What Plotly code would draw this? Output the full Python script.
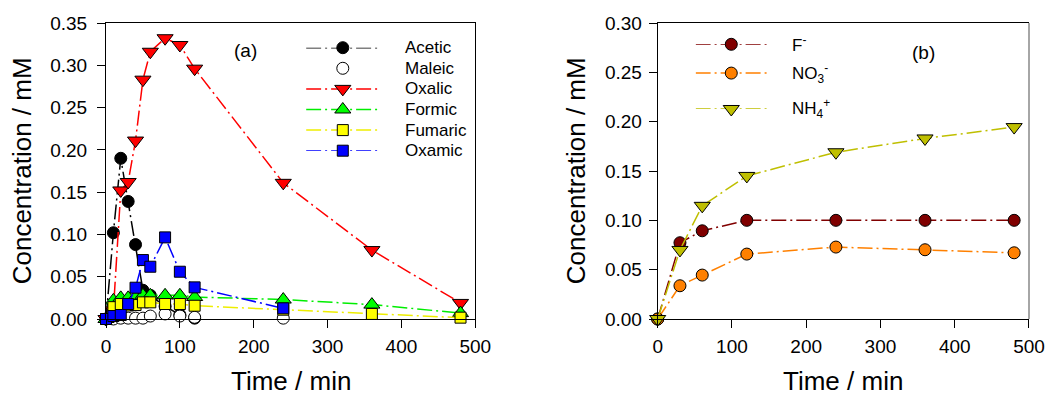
import plotly.graph_objects as go

# ---------------- data: panel (a) ----------------
time_a = [0, 10, 20, 30, 40, 50, 60, 80, 100, 120, 240, 360, 480]
acetic = [0, 0.102, 0.190, 0.139, 0.088, 0.034, 0.028, 0.015, 0.005, 0.001, None, None, None]
maleic = [None, 0.0, 0.001, 0.001, 0.001, 0.001, 0.0035, 0.006, 0.0035, 0.002, 0.001, None, None]
oxalic = [0, 0.010, 0.152, 0.162, 0.211, 0.283, 0.316, 0.332, 0.324, 0.296, 0.161, 0.0815, 0.019]
formic = [0, 0.022, 0.025, 0.025, 0.026, 0.028, 0.028, 0.028, 0.028, 0.026, 0.023, 0.017, 0.007]
fumaric = [0, 0.014, 0.0177, 0.016, 0.0165, 0.0197, 0.0197, 0.0177, 0.0177, 0.0157, 0.011, 0.006, 0.0016]
oxamic = [0, 0.0035, 0.0047, 0.0177, 0.037, 0.0697, 0.0618, 0.0965, 0.0559, 0.0374, 0.0126, None, None]

# ---------------- data: panel (b) ----------------
time_b = [0, 30, 60, 120, 240, 360, 480]
fluoride = [0, 0.0773, 0.0894, 0.100, 0.100, 0.100, 0.100]
nitrate = [0, 0.0337, 0.0445, 0.0658, 0.0729, 0.0702, 0.0671]
ammonium = [0, 0.070, 0.1147, 0.145, 0.169, 0.183, 0.1945]

labels_a = ["Acetic", "Maleic", "Oxalic", "Formic", "Fumaric", "Oxamic"]
labels_b = ["F<sup>-</sup>", "NO<sub>3</sub><sup>-</sup>", "NH<sub>4</sub><sup>+</sup>"]

# ---------------- styles ----------------
DASH = "15px,4px,2px,4px"
FONT = "Liberation Sans, Arial, sans-serif"
styles_a = [
    dict(color="black", fill="black", symbol="circle", size=12, line=True),
    dict(color="black", fill="white", symbol="circle", size=12, line=False),
    dict(color="#ff0000", fill="#ff0000", symbol="triangle-down", size=14, line=True),
    dict(color="#00ee00", fill="#00ff00", symbol="triangle-up", size=14, line=True),
    dict(color="#eeee00", fill="#ffff00", symbol="square", size=11, line=True),
    dict(color="#0000ff", fill="#0000ff", symbol="square", size=11, line=True),
]
styles_b = [
    dict(color="#800000", fill="#800000", symbol="circle", size=12, line=True),
    dict(color="#ff8000", fill="#ff8000", symbol="circle", size=12, line=True),
    dict(color="#bfbf00", fill="#bfbf00", symbol="triangle-down", size=14, line=True),
]

series_a = [acetic, maleic, oxalic, formic, fumaric, oxamic]
series_b = [fluoride, nitrate, ammonium]

fig = go.Figure()


def add_series(x, y, st, xa, ya, name):
    fig.add_trace(go.Scatter(
        x=x, y=y, name=name, xaxis=xa, yaxis=ya,
        mode="lines+markers" if st["line"] else "markers",
        line=dict(color=st["color"], width=1.5, dash=DASH),
        marker=dict(symbol=st["symbol"], size=st["size"], color=st["fill"],
                    line=dict(color="black", width=1)),
        cliponaxis=False, showlegend=False, connectgaps=False,
    ))


for ys, st, nm in zip(series_a, styles_a, labels_a):
    add_series(time_a, ys, st, "x", "y", nm)
for ys, st, nm in zip(series_b, styles_b, labels_b):
    add_series(time_b, ys, st, "x2", "y2", nm)

# ---------------- hand-made legends (overlay axes) ----------------
legend_rows_a = [0, 1, 2, 3, 4, 5]
legend_rows_b = [0, 0.89, 2]


def add_legend(rows, styles, labels, xa, ya, text_x_paper):
    for r, st, lab in zip(rows, styles, labels):
        if st["line"]:
            fig.add_trace(go.Scatter(
                x=[0, 1], y=[r, r], xaxis=xa, yaxis=ya, mode="lines",
                line=dict(color=st["color"], width=1.5, dash=DASH),
                showlegend=False, hoverinfo="skip", cliponaxis=False))
        fig.add_trace(go.Scatter(
            x=[0.5], y=[r], xaxis=xa, yaxis=ya, mode="markers",
            marker=dict(symbol=st["symbol"], size=st["size"], color=st["fill"],
                        line=dict(color="black", width=1)),
            showlegend=False, hoverinfo="skip", cliponaxis=False))
        fig.add_annotation(x=text_x_paper, y=r, xref="paper", yref=ya, text=lab,
                           showarrow=False, xanchor="left", yanchor="middle",
                           font=dict(family=FONT, size=17, color="black"))


add_legend(legend_rows_a, styles_a, labels_a, "x3", "y3", (406 - 106) / 932)
add_legend(legend_rows_b, styles_b, labels_b, "x4", "y4", (797 - 106) / 932)

axis_common = dict(showline=True, linecolor="black", linewidth=1,
                   ticks="outside", ticklen=8, tickcolor="black", tickwidth=1,
                   showgrid=False, zeroline=False,
                   tickfont=dict(family=FONT, size=19, color="black"))

fig.update_layout(
    width=1057, height=397,
    margin=dict(l=106, r=19, t=23, b=78),
    paper_bgcolor="white", plot_bgcolor="white",
    xaxis=dict(domain=[0, 0.4001], range=[0, 500], dtick=100, anchor="y", mirror=True,
               ticklabelstandoff=2, **axis_common),
    yaxis=dict(domain=[0, 1], range=[0, 0.35], dtick=0.05, tickformat=".2f", anchor="x", mirror=True,
               ticklabelstandoff=6, **axis_common),
    xaxis2=dict(domain=[0.5977, 1], range=[0, 500], dtick=100, anchor="y2", mirror=True,
                ticklabelstandoff=2, **axis_common),
    yaxis2=dict(domain=[0, 1], range=[0, 0.30], dtick=0.05, tickformat=".2f", anchor="x2", mirror=False,
                ticklabelstandoff=3, **axis_common),
    xaxis3=dict(domain=[0.2168, 0.2963], range=[0, 1], visible=False, anchor="y3", fixedrange=True),
    yaxis3=dict(domain=[0.5686, 0.9166], range=[5, 0], visible=False, anchor="x3", fixedrange=True),
    xaxis4=dict(domain=[0.6388, 0.7161], range=[0, 1], visible=False, anchor="y4", fixedrange=True),
    yaxis4=dict(domain=[0.7095, 0.928], range=[2, 0], visible=False, anchor="x4", fixedrange=True),
    showlegend=False,
)

# right border of panel (b) in grey
fig.add_shape(type="line", xref="x2 domain", yref="y2 domain", x0=1, x1=1, y0=0, y1=1,
              line=dict(color="#888888", width=1.5))

title_font = dict(family=FONT, size=26, color="black")
fig.add_annotation(text="Concentration / mM", xref="paper", yref="paper", x=-0.0907, y=0.5,
                   textangle=-90, showarrow=False, xanchor="center", yanchor="middle", font=title_font)
fig.add_annotation(text="Concentration / mM", xref="paper", yref="paper", x=0.5094, y=0.5,
                   textangle=-90, showarrow=False, xanchor="center", yanchor="middle", font=title_font)
fig.add_annotation(text="Time / min", xref="paper", yref="paper", x=0.2, y=-(381 - 319) / 296,
                   showarrow=False, xanchor="center", yanchor="middle", font=title_font)
fig.add_annotation(text="Time / min", xref="paper", yref="paper", x=0.7988, y=-(381 - 319) / 296,
                   showarrow=False, xanchor="center", yanchor="middle", font=title_font)
fig.add_annotation(text="(a)", xref="paper", yref="paper", x=(246.7 - 106) / 932, y=1 - (50 - 23) / 296,
                   showarrow=False, xanchor="center", yanchor="middle",
                   font=dict(family=FONT, size=19, color="black"))
fig.add_annotation(text="(b)", xref="paper", yref="paper", x=(931 - 106) / 932, y=1 - (53 - 23) / 296,
                   showarrow=False, xanchor="center", yanchor="middle",
                   font=dict(family=FONT, size=19, color="black"))

fig.write_html("out.html")
